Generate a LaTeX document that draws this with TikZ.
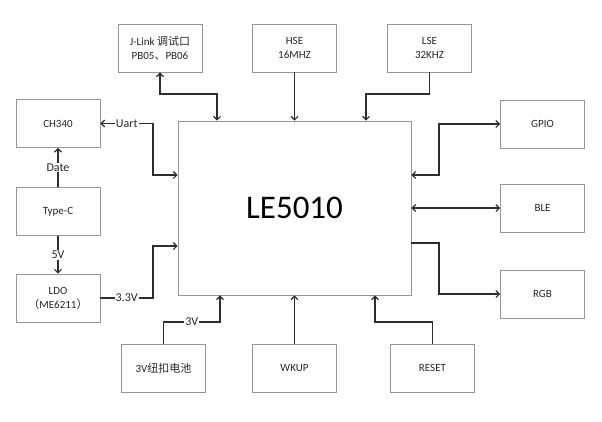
\documentclass[tikz,border=0pt]{standalone}
\usepackage{fontspec}
\setmainfont{Carlito}
\newfontfamily\cjk{Noto Sans CJK SC}
\usetikzlibrary{arrows.meta}
\definecolor{BoxGray}{RGB}{150, 150, 150}
\definecolor{WireDark}{RGB}{45, 45, 45}

\begin{document}
\begin{tikzpicture}[x=1pt, y=-1pt,
    box/.style={draw=BoxGray, line width=0.9pt, minimum width=84pt, minimum height=48pt,
                align=center, font=\fontsize{11}{14}\selectfont, text=black!85},
    wire/.style={draw=WireDark, line width=1.1pt},
    lbl/.style={fill=white, inner sep=1pt, font=\fontsize{12}{14}\selectfont, text=black!85},
    >={Straight Barb[length=3.5pt, width=7pt]}]
    \useasboundingbox (0,0) rectangle (602,421);

    % Main chip
    \node[box, minimum width=233pt, minimum height=174pt, font=\fontsize{33}{36}\selectfont, text=black]
        (mcu) at (294.5, 208) {LE5010};

    % Top row
    \node[box] (jlink) at (160, 48) {J-Link {\cjk 调试口}\\PB05{\cjk 、}PB06};
    \node[box] (hse) at (294.5, 48) {HSE\\16MHZ};
    \node[box] (lse) at (429.5, 48) {LSE\\32KHZ};

    % Right column
    \node[box] (gpio) at (542.5, 124) {GPIO};
    \node[box] (ble) at (542.5, 208) {BLE};
    \node[box] (rgb) at (542.5, 294) {RGB};

    % Left column
    \node[box] (ch340) at (58, 123.5) {CH340};
    \node[box] (typec) at (58, 211.5) {Type-C};
    \node[box] (ldo) at (58, 298) {LDO\\{\cjk （}ME6211{\cjk ）}};

    % Bottom row
    \node[box] (batt) at (163.5, 368) {3V{\cjk 纽扣电池}};
    \node[box] (wkup) at (294.5, 368) {WKUP};
    \node[box] (reset) at (432.5, 368) {RESET};

    % Bends
    \coordinate (jlbend) at (217, 94);
    \coordinate (lsebend) at (366, 94);
    \coordinate (battbend) at (220, 322);
    \coordinate (resetbend) at (375, 322);
    \coordinate (uartbend) at (153, 175);
    \coordinate (ldobend) at (153, 246);
    \coordinate (gpiobend) at (439, 175);
    \coordinate (rgbbend) at (439, 243);

    % Top links
    \draw[wire, <->] (jlink.south) |- (jlbend) -- (jlbend |- mcu.north);
    \draw[wire, ->] (hse.south) -- (hse.south |- mcu.north);
    \draw[wire, ->] (lse.south) |- (lsebend) -- (lsebend |- mcu.north);

    % Right links
    \draw[wire, <->] (gpio.west) -| (gpiobend) -- (mcu.east |- gpiobend);
    \draw[wire, <->] (mcu.east |- ble.west) -- (ble.west);
    \draw[wire, ->] (mcu.east |- rgbbend) -- (rgbbend) |- (rgb.west);

    % Left links
    \draw[wire, <->] (ch340.east) -- node[lbl] {Uart} (ch340.east -| uartbend)
        |- (mcu.west |- uartbend);
    \draw[wire, ->] (typec.north) -- node[lbl] {Date} (ch340.south);
    \draw[wire, ->] (typec.south) -- node[lbl] {5V} (ldo.north);
    \draw[wire, ->] (ldo.east) -- node[lbl] {3.3V} (ldo.east -| ldobend)
        |- (mcu.west |- ldobend);

    % Bottom links
    \draw[wire, ->] (batt.north) |- node[lbl, pos=0.75] {3V} (battbend)
        -- (battbend |- mcu.south);
    \draw[wire, ->] (wkup.north) -- (wkup.north |- mcu.south);
    \draw[wire, ->] (reset.north) |- (resetbend) -- (resetbend |- mcu.south);
\end{tikzpicture}
\end{document}
